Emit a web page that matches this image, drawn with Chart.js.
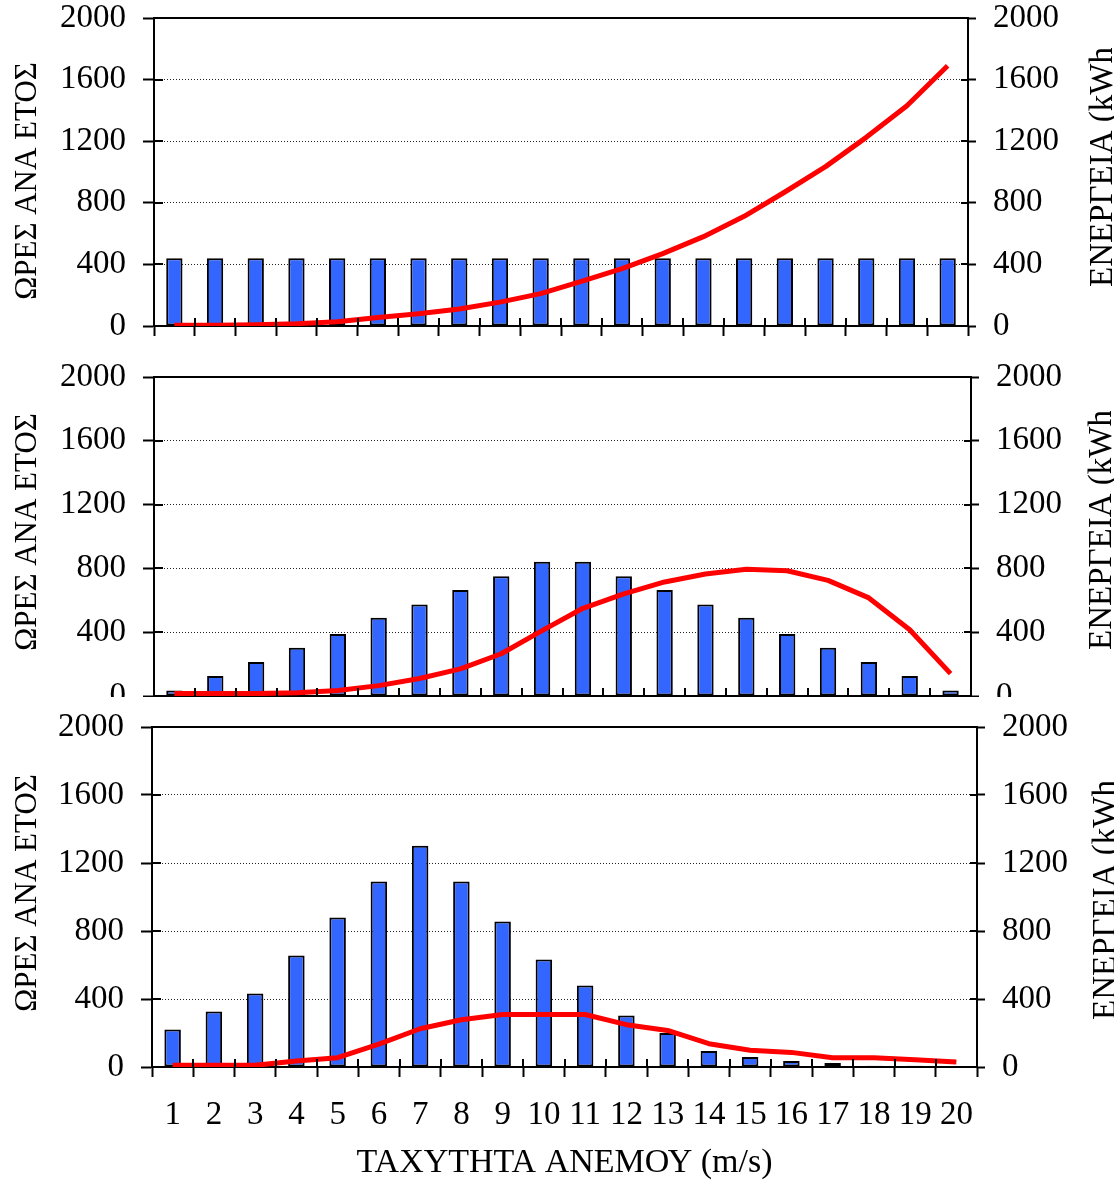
<!DOCTYPE html>
<html>
<head>
<meta charset="utf-8">
<script src="https://cdn.jsdelivr.net/npm/chart.js@4/dist/chart.umd.min.js"></script>
<style>
html, body { margin: 0; padding: 0; background: #ffffff; }
#wrap { position: relative; width: 1114px; height: 1180px; overflow: hidden; background: #ffffff; }
canvas { position: absolute; left: 0; }
</style>
</head>
<body>
<div id="wrap">
  <canvas id="c1" width="1114" height="350" style="top:0px"></canvas>
  <canvas id="c2" width="1114" height="347" style="top:350px"></canvas>
  <canvas id="c3" width="1114" height="483" style="top:697px"></canvas>
</div>
<script>
// ---- data ----
const speeds = ['1','2','3','4','5','6','7','8','9','10','11','12','13','14','15','16','17','18','19','20'];
const yTickValues = [0, 400, 800, 1200, 1600, 2000];

const hoursUniform  = [440,440,440,440,440,440,440,440,440,440,440,440,440,440,440,440,440,440,440,440];
const energyUniform = [5,5,8,15,28,55,80,110,155,210,290,372,470,580,712,870,1035,1225,1430,1690];

const hoursWide  = [35,125,213,302,388,490,574,664,751,841,841,751,664,574,490,388,302,213,125,35];
const energyWide = [15,15,15,20,35,65,110,170,265,410,550,640,715,765,795,785,725,615,415,140];

const hoursPeaked  = [221,327,433,656,879,1091,1302,1091,856,632,480,303,200,94,59,35,23,8,8,0];
const energyPeaked = [10,10,10,35,55,135,225,278,309,309,309,249,215,137,98,86,55,55,43,29];

const hoursTitle  = 'ΩΡΕΣ ΑΝΑ ΕΤΟΣ';
const energyTitle = 'ΕΝΕΡΓΕΙΑ (kWh)';
const energyTitleVisible = 'ΕΝΕΡΓΕΙΑ (kWh';
const speedTitle  = 'ΤΑΧΥΤΗΤΑ ΑΝΕΜΟΥ (m/s)';

// ---- style ----
const FONT = '"Liberation Serif", "Times New Roman", serif';
Chart.defaults.font.family = FONT;
Chart.defaults.color = '#000';

const decor = {
  id: 'decor',
  afterDraw(chart, args, o) {
    const { ctx, chartArea: a, scales } = chart;
    ctx.save();
    ctx.strokeStyle = '#000';
    ctx.lineWidth = 2;
    ctx.beginPath();
    ctx.moveTo(a.left - 1, a.top);
    ctx.lineTo(a.right + 1, a.top);
    const ys = scales.y, yr = scales.y1, xs = scales.x;
    ys.ticks.forEach(t => {
      const py = Math.round(ys.getPixelForValue(t.value));
      ctx.moveTo(a.left, py); ctx.lineTo(a.left + 9, py);
    });
    yr.ticks.forEach(t => {
      const py = Math.round(yr.getPixelForValue(t.value));
      ctx.moveTo(a.right, py); ctx.lineTo(a.right - 7, py);
    });
    for (let i = 0; i <= xs.ticks.length; i++) {
      const px = Math.round(xs.getPixelForValue(i - 0.5));
      ctx.moveTo(px, a.bottom); ctx.lineTo(px, a.bottom - 8);
    }
    ctx.stroke();

    ctx.fillStyle = '#000';
    ctx.save();
    ctx.font = '31px ' + FONT;
    ctx.translate(o.lx, o.ly);
    ctx.rotate(-Math.PI / 2);
    ctx.textAlign = 'center';
    ctx.textBaseline = 'middle';
    ctx.fillText(hoursTitle, 0, 0);
    ctx.restore();
    ctx.save();
    ctx.font = '33px ' + FONT;
    ctx.translate(o.rx, o.ry);
    ctx.rotate(-Math.PI / 2);
    const w = ctx.measureText(energyTitleVisible).width;
    ctx.beginPath();
    ctx.rect(-4, -60, w + 3, 90);
    ctx.clip();
    ctx.textAlign = 'left';
    ctx.textBaseline = 'alphabetic';
    ctx.fillText(energyTitle, 0, 0);
    ctx.restore();
    ctx.restore();
  }
};

function makeChart(id, hours, energy, p) {
  const tickFont = { size: 33, family: FONT, lineHeight: 1 };
  return new Chart(document.getElementById(id), {
    type: 'bar',
    data: {
      labels: speeds,
      datasets: [
        {
          type: 'line', data: energy, yAxisID: 'y1', order: 0,
          borderColor: '#ff0000', borderWidth: 5, pointRadius: 0,
          tension: 0, fill: false, borderCapStyle: 'butt', borderJoinStyle: 'round'
        },
        {
          type: 'bar', data: hours, yAxisID: 'y', order: 1,
          backgroundColor: '#3366ff', borderColor: '#000', borderWidth: 2,
          borderSkipped: false, barPercentage: 0.4, categoryPercentage: 1.0
        }
      ]
    },
    options: {
      responsive: false, animation: false, devicePixelRatio: 1, events: [],
      layout: { padding: { top: p.top, left: 0, right: 0, bottom: 0 } },
      plugins: {
        legend: { display: false }, tooltip: { enabled: false },
        decor: { lx: p.lx, ly: p.ly, rx: p.rx, ry: p.ry }
      },
      scales: {
        x: {
          type: 'category', offset: true,
          grid: { offset: true, drawOnChartArea: false, drawTicks: true, tickLength: 10, tickWidth: 2, tickColor: '#000', color: '#000' },
          border: { display: true, color: '#000', width: 2 },
          ticks: { display: p.showX, font: tickFont, color: '#000', padding: 22, maxRotation: 0, minRotation: 0, autoSkip: false },
          title: { display: p.showX, text: speedTitle, color: '#000', font: { size: 34, family: FONT, lineHeight: 1 }, padding: { top: 0, bottom: 0 } },
          afterFit(s) { s.height = p.xH; s.paddingLeft = 0; s.paddingRight = 0; }
        },
        y: {
          type: 'linear', position: 'left', min: 0, max: 2000,
          afterBuildTicks(s) { s.ticks = yTickValues.map(v => ({ value: v })); },
          grid: { drawOnChartArea: true, color: '#222', lineWidth: 1, drawTicks: true, tickLength: 11, tickWidth: 2, tickColor: '#000' },
          border: { display: true, color: '#000', width: 2, dash: [1, 2] },
          ticks: { font: tickFont, color: '#000', padding: 17, callback: v => String(v) },
          afterFit(s) { s.width = p.leftW; s.paddingTop = 0; s.paddingBottom = 0; }
        },
        y1: {
          type: 'linear', position: 'right', min: 0, max: 2000,
          afterBuildTicks(s) { s.ticks = yTickValues.map(v => ({ value: v })); },
          grid: { drawOnChartArea: false, drawTicks: true, tickLength: 8, tickWidth: 2, tickColor: '#000', color: '#000' },
          border: { display: true, color: '#000', width: 2 },
          ticks: { font: tickFont, color: '#000', padding: 17, callback: v => String(v) },
          afterFit(s) { s.width = p.rightW; s.paddingTop = 0; s.paddingBottom = 0; }
        }
      }
    },
    plugins: [decor]
  });
}

makeChart('c1', hoursUniform, energyUniform,
  { top: 18, xH: 24, leftW: 154, rightW: 146, showX: false, lx: 28, ly: 181, rx: 1112, ry: 287 });
makeChart('c2', hoursWide, energyWide,
  { top: 27, xH: 1, leftW: 154, rightW: 143, showX: false, lx: 28, ly: 182, rx: 1111, ry: 300 });
makeChart('c3', hoursPeaked, energyPeaked,
  { top: 30, xH: 113, leftW: 152, rightW: 137, showX: true, lx: 28, ly: 196, rx: 1115, ry: 323 });
</script>
</body>
</html>
